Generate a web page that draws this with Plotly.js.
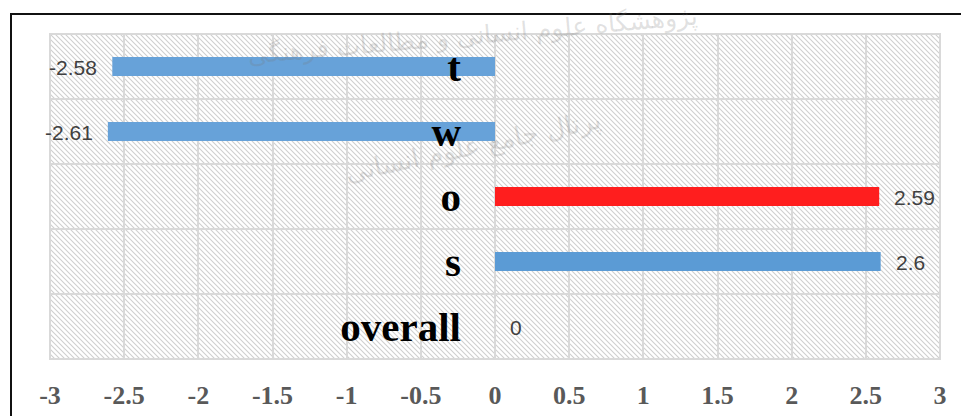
<!DOCTYPE html>
<html>
<head>
<meta charset="utf-8">
<script src="https://cdn.plot.ly/plotly-3.0.1.min.js"></script>
<style>
  html, body { margin: 0; padding: 0; background: #ffffff; }
  #wrap { position: relative; width: 961px; height: 416px; overflow: hidden; }
  #frame { position: absolute; left: 10px; top: 13px; width: 1000px; height: 500px;
           border-left: 2px solid #111; border-top: 2px solid #111; }
  #chart { position: absolute; left: 0; top: 0; width: 961px; height: 416px; }
</style>
</head>
<body>
<div id="wrap">
  <div id="frame"></div>
  <div id="chart"></div>
</div>
<script>
// ---- data ----
const categories = ['t', 'w', 'o', 's', 'overall'];
const values = [-2.58, -2.61, 2.59, 2.6, 0];
const xTickVals = [-3, -2.5, -2, -1.5, -1, -0.5, 0, 0.5, 1, 1.5, 2, 2.5, 3];
const xTickText = ['-3', '-2.5', '-2', '-1.5', '-1', '-0.5', '0', '0.5', '1', '1.5', '2', '2.5', '3'];
const watermarkLines = ['پژوهشگاه علوم انسانی و مطالعات فرهنگی', 'پرتال جامع علوم انسانی'];

// ---- styles ----
const barColors = ['#67A2D9', '#67A2D9', '#FF1E1E', '#5B9BD5', '#5B9BD5'];

const hatchSvg =
  '<svg xmlns="http://www.w3.org/2000/svg" width="890" height="325">' +
  '<defs><pattern id="h" patternUnits="userSpaceOnUse" width="5" height="5">' +
  '<path d="M-1,-1 L6,6 M-1,4 L1,6 M4,-1 L6,1" stroke="#cfcfcf" stroke-width="1.1"/>' +
  '</pattern></defs>' +
  '<rect width="890" height="325" fill="#ffffff"/>' +
  '<rect width="890" height="325" fill="url(#h)"/></svg>';
const hatchUri = 'data:image/svg+xml;charset=utf-8,' + encodeURIComponent(hatchSvg);

const trace = {
  type: 'bar',
  orientation: 'h',
  x: values,
  y: categories,
  marker: { color: barColors, line: { width: 0 } },
  hoverinfo: 'none'
};

const labelAnnotations = values.map((v, i) => ({
  x: v,
  y: categories[i],
  xref: 'x',
  yref: 'y',
  text: String(v),
  showarrow: false,
  xanchor: v < 0 ? 'right' : 'left',
  xshift: v < 0 ? -13 : 13,
  yshift: -1,
  font: { family: 'Liberation Sans, Arial, sans-serif', size: 21, color: '#404040' }
}));

const watermarkAnnotations = [
  { x: 0.475, y: 0.995, textangle: -5, size: 25 },
  { x: 0.475, y: 0.655, textangle: -12, size: 26 }
].map((w, i) => ({
  x: w.x, y: w.y, xref: 'paper', yref: 'paper',
  xanchor: 'center', yanchor: 'middle',
  text: watermarkLines[i], showarrow: false,
  textangle: w.textangle,
  font: { family: 'DejaVu Sans, sans-serif', size: w.size, color: 'rgba(120,120,120,0.22)' }
}));

const layout = {
  width: 961,
  height: 416,
  margin: { l: 50, r: 21, t: 34, b: 57, pad: 0 },
  paper_bgcolor: 'rgba(0,0,0,0)',
  plot_bgcolor: 'rgba(0,0,0,0)',
  bargap: 0.71,
  showlegend: false,
  xaxis: {
    range: [-3, 3],
    tickmode: 'array',
    tickvals: xTickVals,
    ticktext: xTickText,
    showgrid: true,
    gridcolor: '#d9d9d9',
    gridwidth: 2,
    zeroline: false,
    showline: false,
    ticks: '',
    ticklabelstandoff: 18,
    tickfont: { family: 'Liberation Serif, Times New Roman, serif', size: 26, weight: 'bold', color: '#595959' },
    fixedrange: true
  },
  yaxis: {
    type: 'category',
    autorange: 'reversed',
    anchor: 'free',
    position: 0.5,
    tickson: 'boundaries',
    showgrid: true,
    gridcolor: '#d9d9d9',
    gridwidth: 2,
    showline: false,
    zeroline: false,
    ticks: '',
    ticklabelstandoff: 34,
    tickfont: { family: 'Liberation Serif, Times New Roman, serif', size: 41, weight: 'bold', color: '#000000' },
    fixedrange: true
  },
  images: [{
    source: hatchUri,
    xref: 'paper', yref: 'paper',
    x: 0, y: 1, sizex: 1, sizey: 1,
    xanchor: 'left', yanchor: 'top',
    sizing: 'stretch',
    layer: 'below'
  }],
  shapes: [{
    type: 'rect', xref: 'paper', yref: 'paper',
    x0: 0, x1: 1, y0: 0, y1: 1,
    line: { color: '#d9d9d9', width: 2 },
    layer: 'below'
  }],
  annotations: labelAnnotations.concat(watermarkAnnotations)
};

Plotly.newPlot('chart', [trace], layout, { displayModeBar: false, staticPlot: true });
</script>
</body>
</html>
